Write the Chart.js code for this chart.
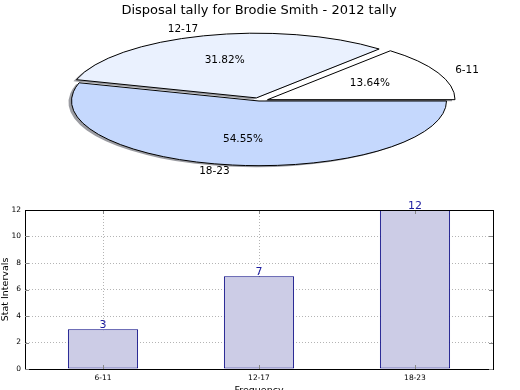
<!DOCTYPE html>
<html><head><meta charset="utf-8">
<script src="https://cdn.jsdelivr.net/npm/chart.js@4.4.1/dist/chart.umd.min.js"></script>
<style>
html,body{margin:0;padding:0;background:#fff;overflow:hidden;width:520px;height:390px;position:relative;}
canvas{position:absolute;left:0;}
#pie{top:0}
#bar{top:200px}
</style></head><body>
<canvas id="pie" width="520" height="200"></canvas>
<canvas id="bar" width="520" height="200"></canvas>
<script>
const chartTitle = 'Disposal tally for Brodie Smith - 2012 tally';
const categories = ['6-11', '12-17', '18-23'];
const counts = [3, 7, 12];
const pieColors = ['#ffffff', '#eaf1fe', '#c5d8fd'];
const explode = [0.05, 0.05, 0];
const yTicks = [0, 2, 4, 6, 8, 10, 12];
const xTitle = 'Frequency';
const yTitle = 'Stat Intervals';

const FONT = '"DejaVu Sans", sans-serif';
const R = 187.5;
const pieScale = 0.345;
const total = counts.reduce((a, b) => a + b, 0);

// pie drawn clockwise from east in reversed order (matplotlib goes counter-clockwise)
const order = [2, 1, 0];
const pieLabels = order.map(i => categories[i]);
const pieData = order.map(i => counts[i]);
const pieBg = order.map(i => pieColors[i]);
const pieExplode = order.map(i => explode[i]);

const ellipsePlugin = {
  id: 'ellipse',
  beforeDatasetsDraw(chart) {
    const ctx = chart.ctx;
    const arcs = chart.getDatasetMeta(0).data;
    const origStroke = CanvasRenderingContext2D.prototype.stroke;
    const pass = shadow => arcs.forEach((arc, i) => {
      const mid = (arc.startAngle + arc.endAngle) / 2;
      const d = pieExplode[i] * arc.outerRadius;
      ctx.save();
      if (shadow) ctx.translate(-3, 1.5);
      const base = ctx.getTransform();
      ctx.translate(arc.x + Math.cos(mid) * d, arc.y + Math.sin(mid) * d * pieScale);
      ctx.scale(1, pieScale);
      ctx.translate(-arc.x, -arc.y);
      ctx.stroke = function (...a) { this.save(); this.setTransform(base); origStroke.apply(this, a); this.restore(); };
      if (shadow) {
        const o = arc.options;
        arc.options = Object.assign({}, o, { backgroundColor: 'rgba(55,58,70,0.5)', borderWidth: 0, borderColor: 'rgba(0,0,0,0)' });
        arc.draw(ctx);
        arc.options = o;
      } else {
        arc.draw(ctx);
      }
      delete ctx.stroke;
      ctx.restore();
    });
    pass(true);
    pass(false);
    return false;
  },
  afterDraw(chart) {
    const ctx = chart.ctx;
    const meta = chart.getDatasetMeta(0);
    ctx.save();
    ctx.fillStyle = '#000';
    ctx.font = '13px ' + FONT;
    ctx.textAlign = 'center';
    ctx.textBaseline = 'alphabetic';
    ctx.fillText(chartTitle, 259, 14);
    ctx.font = '10.5px ' + FONT;
    ctx.textBaseline = 'middle';
    meta.data.forEach((arc, i) => {
      const mid = (arc.startAngle + arc.endAngle) / 2;
      const rr = arc.outerRadius;
      const off = pieExplode[i] * rr;
      const pos = f => [arc.x + Math.cos(mid) * (off + f * rr), arc.y + Math.sin(mid) * (off + f * rr) * pieScale];
      const [lx, ly] = pos(1.1);
      ctx.textAlign = Math.cos(mid) < 0 ? 'right' : 'left';
      ctx.fillText(pieLabels[i], lx, ly);
      const [px, py] = pos(0.6);
      ctx.textAlign = 'center';
      ctx.fillText((pieData[i] / total * 100).toFixed(2) + '%', px, py);
    });
    ctx.restore();
  }
};

new Chart(document.getElementById('pie'), {
  type: 'pie',
  data: {
    labels: pieLabels,
    datasets: [{
      data: pieData,
      backgroundColor: pieBg,
      borderColor: '#000',
      borderWidth: 1,
      clip: false
    }]
  },
  options: {
    responsive: false,
    animation: false,
    rotation: 90,
    radius: R,
    layout: { padding: { left: 0, right: 2, top: 2, bottom: 0 } },
    plugins: { legend: { display: false }, tooltip: { enabled: false }, title: { display: false } }
  },
  plugins: [ellipsePlugin]
});

const framePlugin = {
  id: 'frame',
  afterDraw(chart) {
    const ctx = chart.ctx;
    const a = chart.chartArea;
    const xs = chart.scales.x, ys = chart.scales.y;
    ctx.save();
    // inward ticks
    ctx.strokeStyle = '#888';
    ctx.lineWidth = 1;
    ctx.beginPath();
    yTicks.forEach(v => {
      const y = Math.round(ys.getPixelForValue(v)) + 0.5;
      ctx.moveTo(a.left, y); ctx.lineTo(a.left + 4, y);
      ctx.moveTo(a.right - 4, y); ctx.lineTo(a.right, y);
    });
    categories.forEach((c, i) => {
      const x = Math.round(xs.getPixelForValue(i)) + 0.5;
      ctx.moveTo(x, a.bottom); ctx.lineTo(x, a.bottom - 4);
      ctx.moveTo(x, a.top); ctx.lineTo(x, a.top + 4);
    });
    ctx.stroke();
    // top and right spines
    ctx.strokeStyle = '#000';
    ctx.beginPath();
    ctx.moveTo(Math.round(a.left), Math.round(a.top) + 0.5);
    ctx.lineTo(Math.round(a.right) + 1, Math.round(a.top) + 0.5);
    ctx.moveTo(Math.round(a.right) + 0.5, Math.round(a.top));
    ctx.lineTo(Math.round(a.right) + 0.5, Math.round(a.bottom) + 1);
    ctx.stroke();
    // value labels
    ctx.fillStyle = '#1c1ca0';
    ctx.font = '11px ' + FONT;
    ctx.textAlign = 'center';
    ctx.textBaseline = 'alphabetic';
    chart.getDatasetMeta(0).data.forEach((bar, i) => {
      ctx.fillText(String(counts[i]), bar.x, bar.y - 1);
    });
    ctx.restore();
  }
};

const gridCol = ctx => (ctx.tick && (ctx.tick.value === yTicks[0] || ctx.tick.value === yTicks[yTicks.length - 1])) ? 'rgba(0,0,0,0)' : '#b4b4b4';

new Chart(document.getElementById('bar'), {
  type: 'bar',
  data: {
    labels: categories,
    datasets: [{
      data: counts,
      backgroundColor: 'rgb(204,204,230)',
      borderColor: '#000080',
      borderWidth: 1,
      borderSkipped: false,
      categoryPercentage: 1,
      barPercentage: 0.45
    }]
  },
  options: {
    responsive: false,
    animation: false,
    layout: { padding: { top: 10, right: 27, left: 0, bottom: 0 } },
    plugins: { legend: { display: false }, tooltip: { enabled: false } },
    scales: {
      x: {
        z: 1,
        offset: true,
        grid: { offset: false, color: '#b4b4b4', drawTicks: false },
        border: { display: true, color: '#000', width: 1, dash: [1, 2] },
        ticks: { font: { size: 7.5, family: FONT }, color: '#000', padding: 5 },
        title: { display: true, text: xTitle, font: { size: 9.5, family: FONT }, color: '#000', padding: { top: 0, bottom: 4 } },
        afterFit(s) { s.height = 31; }
      },
      y: {
        z: 1,
        min: yTicks[0],
        max: yTicks[yTicks.length - 1],
        afterBuildTicks(s) { s.ticks = yTicks.map(v => ({ value: v })); },
        grid: { color: gridCol, drawTicks: false },
        border: { display: true, color: '#000', width: 1, dash: [1, 2] },
        ticks: { font: { size: 7.5, family: FONT }, color: '#000', padding: 4 },
        title: { display: true, text: yTitle, font: { size: 9.5, family: FONT }, color: '#000', padding: { top: 0, bottom: 0 } },
        afterFit(s) { s.width = 25; }
      }
    }
  },
  plugins: [framePlugin]
});
</script>
</body></html>
